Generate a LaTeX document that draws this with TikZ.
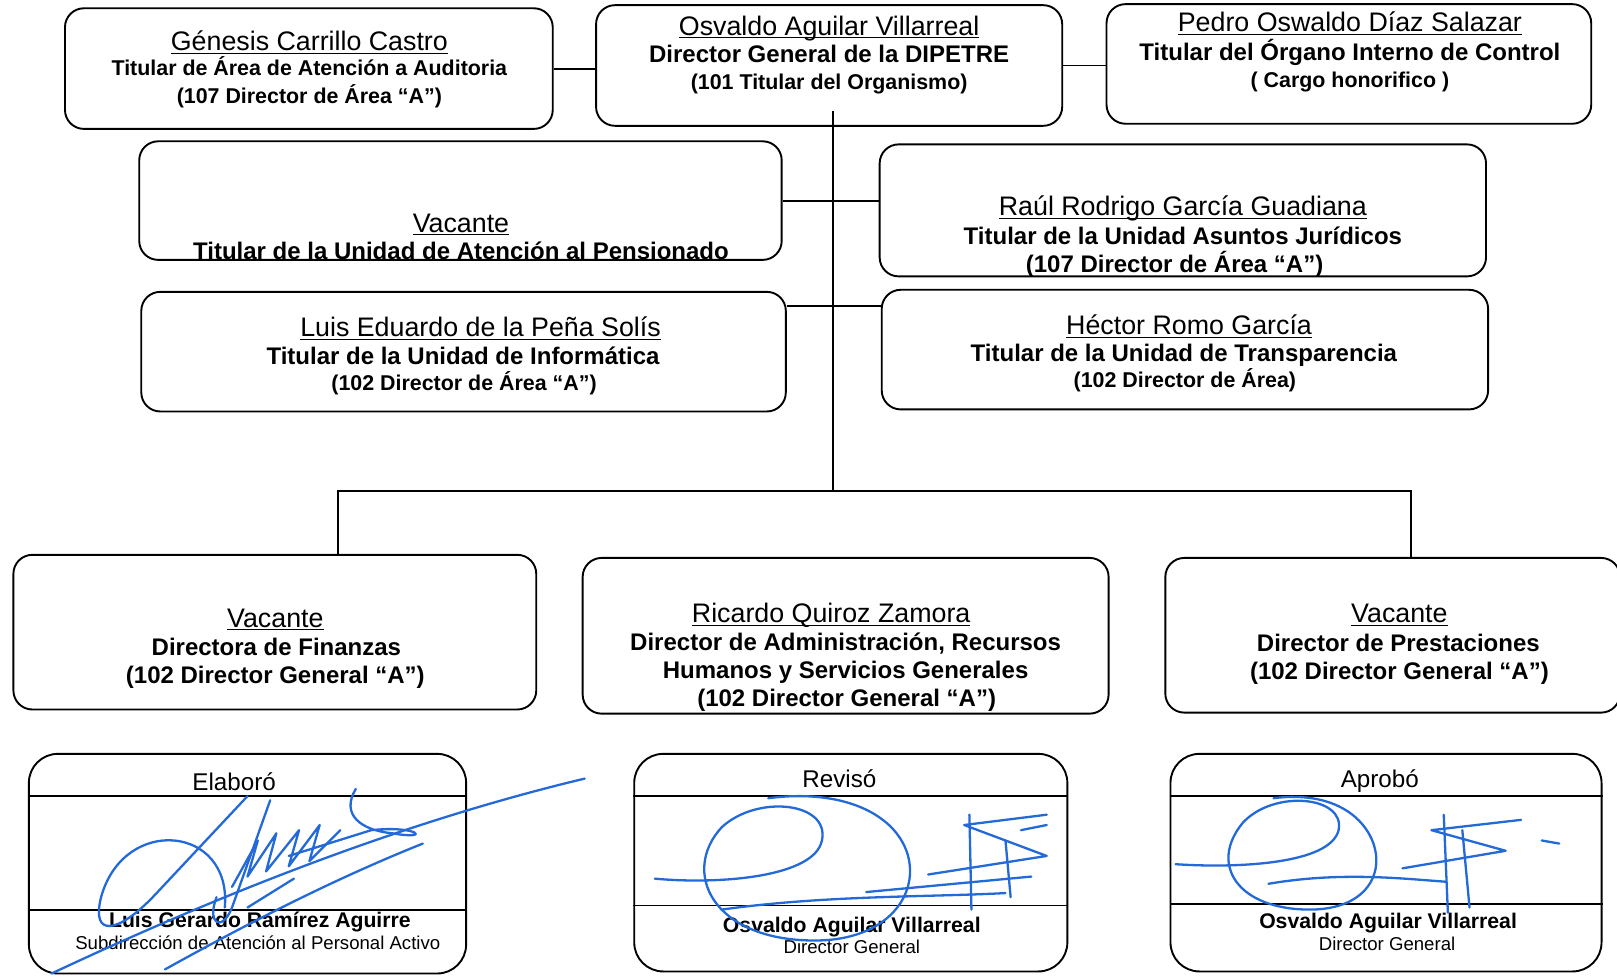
\documentclass[tikz,border=0pt]{standalone}
\usepackage{fontspec}
\setmainfont{Liberation Sans}
\usetikzlibrary{fit}
\definecolor{tinta}{RGB}{35,105,215}
\newcommand{\subr}[1]{\underline{\smash{#1}}}
\tikzset{
  caja/.style={draw, line width=0.95pt, rounded corners=9.5pt, inner sep=0pt},
  cajafirma/.style={caja, rounded corners=14.5pt},
  linea/.style={line width=0.95pt},
  nombre/.style={anchor=base, inner sep=0pt, font=\fontsize{13.4}{16}\selectfont},
  puesto/.style={anchor=base, inner sep=0pt, font=\bfseries\fontsize{12}{14}\selectfont},
  clave/.style={anchor=base, inner sep=0pt, font=\bfseries\fontsize{10.7}{13}\selectfont},
  rubro/.style={anchor=base, inner sep=0pt, font=\fontsize{12.1}{14}\selectfont},
  firmante/.style={anchor=base, inner sep=0pt, font=\bfseries\fontsize{10.6}{13}\selectfont},
  area/.style={anchor=base, inner sep=0pt, font=\fontsize{9.3}{11}\selectfont},
  trazo/.style={draw=tinta, line width=1.15pt, line cap=round, line join=round},
}
\begin{document}
\begin{tikzpicture}[x=0.515625pt, y=-0.515625pt]
\useasboundingbox (0,0) rectangle (1568,946.5);

% cajas
\node[caja, fit={(63,8) (536,125)}] (aud) {};
\node[caja, fit={(578,5) (1030,122)}] (dir) {};
\node[caja, fit={(1073,4) (1543,120)}] (oic) {};
\node[caja, fit={(135,137) (758,252)}] (ate) {};
\node[caja, fit={(853,140) (1441,268)}] (jur) {};
\node[caja, fit={(137,283) (762,399)}] (inf) {};
\node[caja, fit={(855,281) (1443,397)}] (tra) {};
\node[caja, fit={(13,538) (520,688)}] (fin) {};
\node[caja, fit={(565,541) (1075,692)}] (adm) {};
\node[caja, fit={(1130,541) (1571,691)}] (pre) {};

% lineas de mando
\coordinate (tronco) at (808,108);
\coordinate (bus) at (808,476);
\coordinate (ramal) at (808,297);
\coordinate (bizq) at (328,476);
\coordinate (bder) at (1368,476);
\draw[linea] (aud.east) -- (aud.east -| dir.west);
\draw[linea] (dir.east) -- (dir.east -| oic.west);
\draw[linea] (tronco) -- (bus);
\draw[linea] (ate.east) -- (ate.east -| jur.west);
\draw[linea] (ramal -| inf.east) -- (ramal -| tra.west);
\draw[linea] (bizq |- fin.north) -- (bizq) -- (bder) -- (bder |- pre.north);

% textos
\node[nombre] (aud-n) at (300,49) {\subr{Génesis Carrillo Castro}};
\node[clave] (aud-p) at (300,73.5) {Titular de Área de Atención a Auditoria};
\node[clave] (aud-c) at (300,100.5) {(107 Director de Área “A”)};

\node[nombre] (dir-n) at (804,34) {\subr{Osvaldo Aguilar Villarreal}};
\node[puesto] (dir-p) at (804,61) {Director General de la DIPETRE};
\node[clave] (dir-c) at (804,86.5) {(101 Titular del Organismo)};

\node[nombre] (oic-n) at (1309,31) {\subr{Pedro Oswaldo Díaz Salazar}};
\node[puesto] (oic-p) at (1309,59) {Titular del Órgano Interno de Control};
\node[clave] (oic-c) at (1309,84.5) {( Cargo honorifico )};

\node[nombre] (ate-n) at (447,225) {\subr{Vacante}};
\node[puesto] (ate-p) at (447,252) {Titular de la Unidad de Atención al Pensionado};

\node[nombre] (jur-n) at (1147,209) {\subr{Raúl Rodrigo García Guadiana}};
\node[puesto] (jur-p) at (1147,237) {Titular de la Unidad Asuntos Jurídicos};
\node[puesto] (jur-c) at (1139,264) {(107 Director de Área “A”)};

\node[nombre] (inf-n) at (466,326) {\subr{Luis Eduardo de la Peña Solís}};
\node[puesto] (inf-p) at (449,353) {Titular de la Unidad de Informática};
\node[clave] (inf-c) at (450,379) {(102 Director de Área “A”)};

\node[nombre] (tra-n) at (1153,324) {\subr{Héctor Romo García}};
\node[puesto] (tra-p) at (1148,351) {Titular de la Unidad de Transparencia};
\node[clave] (tra-c) at (1149,376) {(102 Director de Área)};

\node[nombre] (fin-n) at (267,608) {\subr{Vacante}};
\node[puesto] (fin-p) at (268,636) {Directora de Finanzas};
\node[puesto] (fin-c) at (267,663) {(102 Director General “A”)};

\node[nombre] (adm-n) at (806,604) {\subr{Ricardo Quiroz Zamora}};
\node[puesto] (adm-p) at (820,631) {Director de Administración, Recursos};
\node[puesto] (adm-q) at (820,658) {Humanos y Servicios Generales};
\node[puesto] (adm-c) at (821,685) {(102 Director General “A”)};

\node[nombre] (pre-n) at (1357,604) {\subr{Vacante}};
\node[puesto] (pre-p) at (1356,632) {Director de Prestaciones};
\node[puesto] (pre-c) at (1357,659) {(102 Director General “A”)};

% firmas
\node[cajafirma, fit={(28,731) (452,944)}] (ela) {};
\node[cajafirma, fit={(615,731) (1035,942)}] (rev) {};
\node[cajafirma, fit={(1135,731) (1553,942)}] (apr) {};
\foreach \f/\a/\b in {ela/772/882, rev/772/878, apr/772/877} {
  \draw[linea] (\f.west |- 0,\a) -- (\f.east |- 0,\a);
  \draw[linea] (\f.west |- 0,\b) -- (\f.east |- 0,\b);
}
\node[rubro] (ela-t) at (227,767) {Elaboró};
\node[firmante] (ela-n) at (252,899.5) {Luis Gerardo Ramírez Aguirre};
\node[area] (ela-a) at (250,920.5) {Subdirección de Atención al Personal Activo};
\node[rubro] (rev-t) at (814,764) {Revisó};
\node[firmante] (rev-n) at (826,904) {Osvaldo Aguilar Villarreal};
\node[area] (rev-a) at (826,924.5) {Director General};
\node[rubro] (apr-t) at (1338,764) {Aprobó};
\node[firmante] (apr-n) at (1346,900) {Osvaldo Aguilar Villarreal};
\node[area] (apr-a) at (1345,921.5) {Director General};

% rubricas
\draw[trazo] (50,944) .. controls (250,850) and (420,790) .. (567,755);
\draw[trazo] (160,940) .. controls (250,890) and (330,850) .. (410,818);
\draw[trazo] (218,880) .. controls (225,800) and (120,790) .. (98,870) .. controls (88,910) and (115,905) .. (150,868) -- (240,772);
\draw[trazo] (262,776) -- (225,880) .. controls (215,905) and (200,895) .. (210,870);
\draw[trazo] (225,860) -- (250,815) -- (240,850) -- (268,808) -- (258,845) -- (290,805) -- (280,840) -- (310,800) -- (300,835) -- (330,805);
\draw[trazo] (345,765) .. controls (330,790) and (350,805) .. (380,808) .. controls (420,815) and (405,800) .. (360,805) -- (280,830);
\draw[trazo] (240,880) -- (285,852);

\draw[trazo] (635,852) .. controls (700,858) and (790,850) .. (797,815) .. controls (805,778) and (735,770) .. (700,802) .. controls (660,845) and (690,912) .. (790,912) .. controls (880,912) and (905,840) .. (862,800) .. controls (835,775) and (790,768) .. (745,774);
\draw[trazo] (700,882) .. controls (800,868) and (900,870) .. (975,866);
\draw[trazo] (840,865) -- (1000,850);
\draw[trazo] (940,790) -- (942,882);
\draw[trazo] (975,815) -- (980,870);
\draw[trazo] (1015,790) -- (935,800) -- (1015,830) -- (900,848);
\draw[trazo] (990,805) -- (1015,800);

\draw[trazo] (1140,838) .. controls (1200,842) and (1290,838) .. (1298,805) .. controls (1305,772) and (1235,765) .. (1205,798) .. controls (1172,838) and (1200,882) .. (1270,882) .. controls (1340,882) and (1350,825) .. (1315,793) .. controls (1295,775) and (1265,770) .. (1235,774);
\draw[trazo] (1230,857) .. controls (1300,845) and (1360,852) .. (1402,855);
\draw[trazo] (1400,790) -- (1404,885);
\draw[trazo] (1418,805) -- (1425,880);
\draw[trazo] (1475,795) -- (1388,805) -- (1460,825) -- (1360,842);
\draw[trazo] (1495,815) -- (1512,818);
\end{tikzpicture}
\end{document}
